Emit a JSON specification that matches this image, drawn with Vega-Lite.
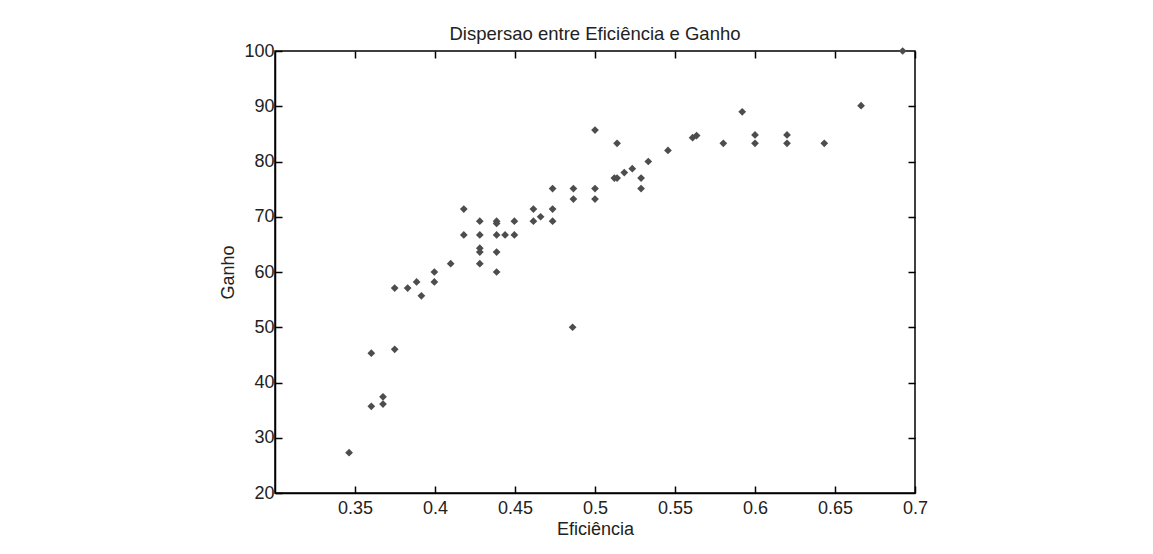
{
  "$schema": "https://vega.github.io/schema/vega-lite/v6.json",
  "autosize": "none",
  "width": 640,
  "height": 442,
  "padding": {"left": 275, "top": 51, "right": 238, "bottom": 61},
  "background": "white",
  "config": {
    "view": {"stroke": "black", "strokeWidth": 1.5},
    "font": "Liberation Sans",
    "axis": {
      "labelFont": "Liberation Sans",
      "titleFont": "Liberation Sans",
      "labelFontSize": 18,
      "titleFontSize": 18,
      "titleFontWeight": "normal",
      "labelColor": "#222",
      "titleColor": "#222",
      "domainColor": "black",
      "domainWidth": 1.5,
      "tickColor": "black",
      "tickWidth": 1.5,
      "tickSize": -7,
      "grid": false
    }
  },
  "title": {
    "text": "Dispersao entre Eficiência e Ganho",
    "font": "Liberation Sans",
    "fontSize": 18.5,
    "fontWeight": "normal",
    "color": "#222",
    "offset": -1
  },
  "data": {
    "values": [
      {"Eficiencia": 0.3463, "Ganho": 27.3},
      {"Eficiencia": 0.3602, "Ganho": 35.7},
      {"Eficiencia": 0.3602, "Ganho": 45.3},
      {"Eficiencia": 0.3675, "Ganho": 36.1},
      {"Eficiencia": 0.3675, "Ganho": 37.4},
      {"Eficiencia": 0.3748, "Ganho": 46.0},
      {"Eficiencia": 0.3748, "Ganho": 57.1},
      {"Eficiencia": 0.3829, "Ganho": 57.1},
      {"Eficiencia": 0.3885, "Ganho": 58.2},
      {"Eficiencia": 0.3915, "Ganho": 55.7},
      {"Eficiencia": 0.3996, "Ganho": 58.2},
      {"Eficiencia": 0.3996, "Ganho": 60.0},
      {"Eficiencia": 0.4098, "Ganho": 61.5},
      {"Eficiencia": 0.418, "Ganho": 71.4},
      {"Eficiencia": 0.418, "Ganho": 66.7},
      {"Eficiencia": 0.428, "Ganho": 69.2},
      {"Eficiencia": 0.428, "Ganho": 66.7},
      {"Eficiencia": 0.428, "Ganho": 64.3},
      {"Eficiencia": 0.428, "Ganho": 63.6},
      {"Eficiencia": 0.428, "Ganho": 61.5},
      {"Eficiencia": 0.4385, "Ganho": 69.2},
      {"Eficiencia": 0.4385, "Ganho": 68.8},
      {"Eficiencia": 0.4385, "Ganho": 66.7},
      {"Eficiencia": 0.4385, "Ganho": 63.6},
      {"Eficiencia": 0.4385, "Ganho": 60.0},
      {"Eficiencia": 0.4438, "Ganho": 66.7},
      {"Eficiencia": 0.4496, "Ganho": 66.7},
      {"Eficiencia": 0.4496, "Ganho": 69.2},
      {"Eficiencia": 0.4615, "Ganho": 71.4},
      {"Eficiencia": 0.4615, "Ganho": 69.2},
      {"Eficiencia": 0.466, "Ganho": 70.0},
      {"Eficiencia": 0.4735, "Ganho": 75.1},
      {"Eficiencia": 0.4735, "Ganho": 71.4},
      {"Eficiencia": 0.4735, "Ganho": 69.2},
      {"Eficiencia": 0.4865, "Ganho": 75.1},
      {"Eficiencia": 0.4865, "Ganho": 73.2},
      {"Eficiencia": 0.486, "Ganho": 50.0},
      {"Eficiencia": 0.5, "Ganho": 85.7},
      {"Eficiencia": 0.5, "Ganho": 75.1},
      {"Eficiencia": 0.5, "Ganho": 73.2},
      {"Eficiencia": 0.5121, "Ganho": 77.0},
      {"Eficiencia": 0.5138, "Ganho": 77.0},
      {"Eficiencia": 0.5138, "Ganho": 83.3},
      {"Eficiencia": 0.5183, "Ganho": 78.0},
      {"Eficiencia": 0.5233, "Ganho": 78.7},
      {"Eficiencia": 0.5288, "Ganho": 77.0},
      {"Eficiencia": 0.5288, "Ganho": 75.1},
      {"Eficiencia": 0.5333, "Ganho": 80.0},
      {"Eficiencia": 0.5456, "Ganho": 82.0},
      {"Eficiencia": 0.561, "Ganho": 84.3},
      {"Eficiencia": 0.5635, "Ganho": 84.7},
      {"Eficiencia": 0.5802, "Ganho": 83.3},
      {"Eficiencia": 0.592, "Ganho": 89.0},
      {"Eficiencia": 0.6, "Ganho": 84.8},
      {"Eficiencia": 0.6, "Ganho": 83.3},
      {"Eficiencia": 0.62, "Ganho": 84.8},
      {"Eficiencia": 0.62, "Ganho": 83.3},
      {"Eficiencia": 0.6433, "Ganho": 83.3},
      {"Eficiencia": 0.6663, "Ganho": 90.1},
      {"Eficiencia": 0.6923, "Ganho": 100}
    ]
  },
  "layer": [
    {
      "mark": {"type": "point", "shape": "diamond", "filled": true, "size": 60, "color": "#4d4d4d", "opacity": 1},
      "encoding": {
        "x": {
          "field": "Eficiencia", "type": "quantitative",
          "scale": {"domain": [0.3, 0.7], "nice": false, "zero": false},
          "axis": {"orient": "bottom", "title": "Eficiência", "values": [0.35, 0.4, 0.45, 0.5, 0.55, 0.6, 0.65, 0.7], "format": "~g", "labelPadding": 13, "titlePadding": 3, "labelFlush": false}
        },
        "y": {
          "field": "Ganho", "type": "quantitative",
          "scale": {"domain": [20, 100], "nice": false, "zero": false},
          "axis": {"orient": "left", "title": "Ganho", "values": [20, 30, 40, 50, 60, 70, 80, 90, 100], "labelPadding": 8, "titlePadding": 6, "labelFlush": false}
        }
      }
    },
    {
      "mark": {"type": "point", "shape": "diamond", "filled": true, "size": 60, "opacity": 0},
      "encoding": {
        "x": {
          "field": "Eficiencia", "type": "quantitative",
          "axis": {"orient": "top", "title": null, "labels": false, "domain": false, "values": [0.35, 0.4, 0.45, 0.5, 0.55, 0.6, 0.65, 0.7]}
        },
        "y": {
          "field": "Ganho", "type": "quantitative",
          "axis": {"orient": "right", "title": null, "labels": false, "domain": false, "values": [30, 40, 50, 60, 70, 80, 90]}
        }
      }
    }
  ],
  "resolve": {"axis": {"x": "independent", "y": "independent"}}
}
